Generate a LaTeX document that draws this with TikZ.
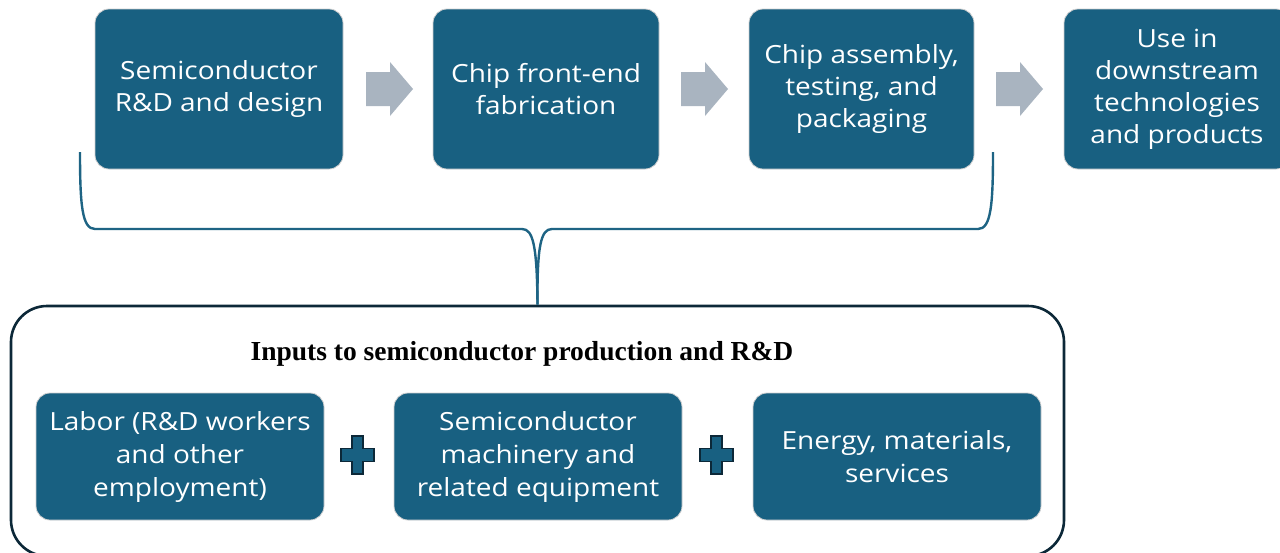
\documentclass[tikz,border=0pt]{standalone}
\usepackage{fontspec}
\setmainfont{Liberation Serif}
\newfontfamily\boxfont[FakeStretch=1.12]{Open Sans}
\definecolor{boxblue}{RGB}{24,96,129}
\definecolor{arrowgray}{RGB}{169,180,192}
\definecolor{bracecol}{RGB}{30,100,132}
\definecolor{darkline}{RGB}{12,40,56}
\tikzset{
  box/.style={rounded corners=14pt, fill=boxblue, draw=black!18, line width=0.8pt,
    text=white, align=center, inner sep=0pt,
    font=\boxfont\fontsize{25}{32}\selectfont},
  topbox/.style={box, minimum height=160pt},
  lowbox/.style={box, minimum width=288pt, minimum height=127pt,
    font=\boxfont\fontsize{25}{33}\selectfont},
  container/.style={draw=darkline, line width=2.6pt, rounded corners=36pt,
    minimum width=1053pt, minimum height=250pt, inner sep=0pt},
  bracepath/.style={draw=bracecol, line width=2.4pt},
  garrow/.pic={\fill[arrowgray] (-24,-17) -- (0,-17) -- (0,-27) -- (23,0) -- (0,27) -- (0,17) -- (-24,17) -- cycle;},
  plussign/.pic={\draw[fill=boxblue, draw=darkline, line width=1.6pt]
     (-5.5,-19) -- (5.5,-19) -- (5.5,-6.5) -- (16.5,-6.5) -- (16.5,6.5) -- (5.5,6.5) -- (5.5,19)
     -- (-5.5,19) -- (-5.5,6.5) -- (-16.5,6.5) -- (-16.5,-6.5) -- (-5.5,-6.5) -- cycle;}
}
\begin{document}
\begin{tikzpicture}[x=1pt,y=-1pt]
\useasboundingbox (0,0) rectangle (1280,552);
\clip (0,0) rectangle (1280,552);
\fill[white] (0,0) rectangle (1280,552);

% top row
\node[topbox, minimum width=248pt] (b1) at (219,89) {Semiconductor\\R\&D and design};
\node[topbox, minimum width=226pt] (b2) at (546,89) {Chip front-end\\fabrication};
\node[topbox, minimum width=225pt] (b3) at (861.5,89) {Chip assembly,\\testing, and\\packaging};
\node[topbox, minimum width=226pt] (b4) at (1177,89) {Use in\\downstream\\technologies\\and products};

\pic at (390,89) {garrow};
\pic at (705,89) {garrow};
\pic at (1020,89) {garrow};

% container
\node[container] (inp) at (537.5,431) {};
\node[font=\bfseries\fontsize{27.5}{32}\selectfont] (title) at (522,354) {Inputs to semiconductor production and R\&D};

% brace
\coordinate (bl) at (80,152);
\coordinate (br) at (993,152);
\path[bracepath] (bl) .. controls (80,205) and (82,229) .. (95,229) -- (522,229)
   .. controls (533,229) and (537,245) .. (inp.north);
\path[bracepath] (br) .. controls (993,205) and (991,229) .. (978,229) -- (552,229)
   .. controls (541,229) and (537,245) .. (inp.north);

% lower boxes
\node[lowbox] (l1) at (180,456.5) {Labor (R\&D workers\\and other\\employment)};
\node[lowbox] (l2) at (538,456.5) {Semiconductor\\machinery and\\related equipment};
\node[lowbox] (l3) at (897,456.5) {Energy, materials,\\services};

\pic at (357.5,455) {plussign};
\pic at (716.5,455) {plussign};
\end{tikzpicture}
\end{document}
